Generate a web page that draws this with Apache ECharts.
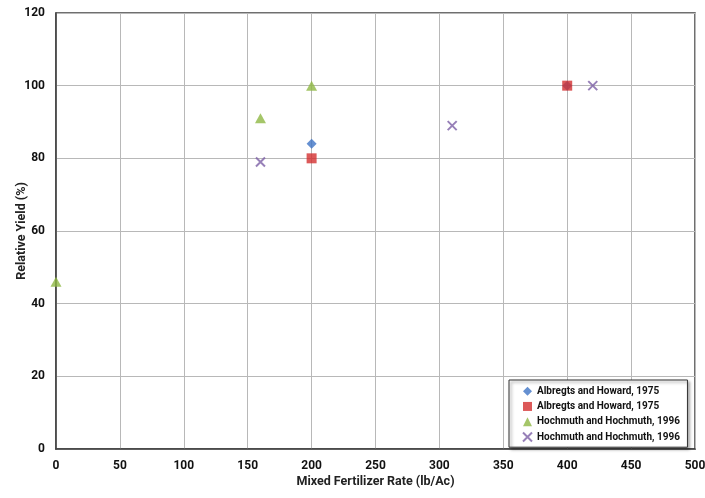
<!DOCTYPE html>
<html>
<head>
<meta charset="utf-8">
<script src="https://cdn.jsdelivr.net/npm/echarts@6/dist/echarts.min.js"></script>
<style>html,body{margin:0;padding:0;background:#fff}#c{width:705px;height:498px}</style>
</head>
<body>
<div id="c"></div>
<script>
const seriesNames = ['Albregts and Howard, 1975', 'Albregts and Howard, 1975 ', 'Hochmuth and Hochmuth, 1996', 'Hochmuth and Hochmuth, 1996 '];
const albregtsA = [[200, 84], [400, 100]];
const albregtsB = [[200, 80], [400, 100]];
const hochmuthA = [[0, 46], [160, 91], [200, 100]];
const hochmuthB = [[160, 79], [310, 89], [420, 100]];
const xTitle = 'Mixed Fertilizer Rate (lb/Ac)';
const yTitle = 'Relative Yield (%)';

const FONT = 'Roboto';
const crossPath = 'path://M0,0L10,10M10,0L0,10';

const chart = echarts.init(document.getElementById('c'), null, {renderer: 'canvas'});
chart.setOption({
  animation: false,
  backgroundColor: '#fff',
  grid: {left: 56, right: 10, top: 13, bottom: 49, show: true, borderColor: '#404040', borderWidth: 1.5,
         outerBoundsMode: 'none', containLabel: false},
  xAxis: {
    type: 'value', min: 0, max: 500, interval: 50,
    name: xTitle, nameLocation: 'middle', nameGap: 26, nameMoveOverlap: false,
    nameTextStyle: {fontFamily: FONT, fontWeight: 'bold', fontSize: 12.5, color: '#222'},
    axisLine: {lineStyle: {color: '#404040', width: 1.5}},
    axisTick: {show: false},
    axisLabel: {fontFamily: FONT, fontWeight: 'bold', fontSize: 12, color: '#111', margin: 11},
    splitLine: {lineStyle: {color: '#b8b8b8', width: 1}}
  },
  yAxis: {
    type: 'value', min: 0, max: 120, interval: 20,
    name: yTitle, nameLocation: 'middle', nameGap: 28, nameRotate: 90, nameMoveOverlap: false,
    nameTextStyle: {fontFamily: FONT, fontWeight: 'bold', fontSize: 12.5, color: '#222'},
    axisLine: {show: true, lineStyle: {color: '#404040', width: 1.5}},
    axisTick: {show: false},
    axisLabel: {fontFamily: FONT, fontWeight: 'bold', fontSize: 12, color: '#111', margin: 11},
    splitLine: {lineStyle: {color: '#b8b8b8', width: 1}}
  },
  legend: {
    orient: 'vertical', left: 509, top: 380,
    padding: [5, 5, 4, 13],
    backgroundColor: '#fff', borderColor: '#333', borderWidth: 1,
    shadowBlur: 3, shadowColor: 'rgba(0,0,0,0.45)', shadowOffsetX: 2, shadowOffsetY: 2,
    itemWidth: 9, itemHeight: 9, itemGap: 3,
    textStyle: {fontFamily: FONT, fontWeight: 'bold', fontSize: 10, color: '#111', lineHeight: 12.3},
    data: seriesNames.map(n => ({name: n}))
  },
  series: [
    {name: seriesNames[0], type: 'scatter', data: albregtsA, symbol: 'diamond', symbolSize: 10,
     itemStyle: {color: '#3e74c6'}},
    {name: seriesNames[1], type: 'scatter', data: albregtsB, symbol: 'rect', symbolSize: 10,
     itemStyle: {color: '#d3302f'}},
    {name: seriesNames[2], type: 'scatter', data: hochmuthA, symbol: 'triangle', symbolSize: [11, 10],
     itemStyle: {color: '#8fb843'}},
    {name: seriesNames[3], type: 'scatter', data: hochmuthB, symbol: crossPath, symbolSize: 9,
     itemStyle: {color: '#7d60a6', borderColor: '#7d60a6', borderWidth: 2}}
  ]
});
</script>
</body>
</html>
